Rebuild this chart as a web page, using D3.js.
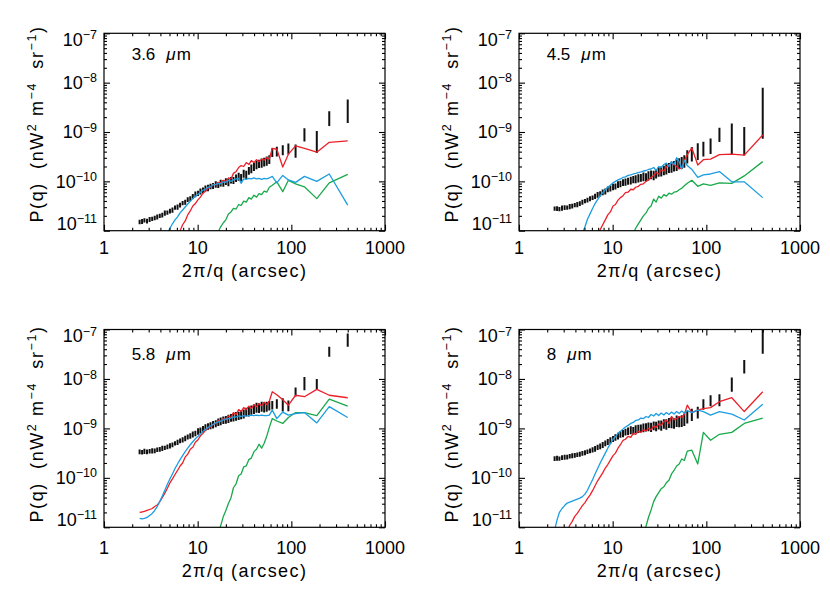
<!DOCTYPE html>
<html>
<head>
<meta charset="utf-8">
<script src="https://cdn.jsdelivr.net/npm/d3@7"></script>
<style>
  body { margin: 0; background: #fff; }
  svg { font-family: "Liberation Sans", Arial, Helvetica, sans-serif; }
</style>
</head>
<body>
<div id="chart"></div>
<script>
const width = 830, height = 593;

// all P(q) values below are in units of 1e-11 nW^2 m^-4 sr^-1
const UNIT = 1e-11;

// angular scale 2pi/q (arcsec), shared by every series
const scales = [
  2.40, 2.55, 2.70, 2.88, 3.07, 3.27, 3.48, 3.70, 3.94, 4.19,
  4.46, 4.75, 5.06, 5.38, 5.73, 6.10, 6.49, 6.91, 7.36, 7.83,
  8.34, 8.87, 9.45, 10.1, 10.7, 11.4, 12.1, 12.9, 13.7, 14.6,
  15.6, 16.6, 17.6, 18.8, 20.0, 21.3, 22.7, 24.1, 25.7, 27.4,
  29.1, 31.0, 33.0, 35.2, 37.4, 39.9, 42.5, 45.2, 48.2, 51.3,
  54.6, 58.2, 62.6, 70.0, 81.0, 93.0, 111, 138, 187, 254,
  400
];

// ---- 3.6 um ----
const obs36 = [
  1.51, 1.55, 1.62, 1.58, 1.70, 1.74, 1.82, 1.91, 2.00, 2.09,
  2.29, 2.34, 2.51, 2.63, 2.95, 3.02, 3.31, 3.63, 3.80, 4.27,
  4.47, 5.01, 5.50, 5.75, 6.31, 6.61, 7.24, 7.41, 7.94, 8.13,
  8.71, 8.51, 9.33, 9.12, 10.0, 9.55, 10.7, 10.5, 11.7, 12.6,
  12.0, 14.5, 13.8, 16.6, 18.2, 20.0, 21.9, 22.9, 24.0, 25.1,
  26.3, 28.2, 39, 41, 44, 47, 43, 92, 71, 197,
  304
];
// relative 1-sigma errors
const err36 = [
  .10, .12, .10, .11, .12, .10, .11, .12, .10, .11,
  .12, .10, .11, .12, .10, .12, .11, .10, .12, .11,
  .12, .11, .13, .12, .14, .13, .14, .15, .13, .14,
  .15, .14, .16, .15, .16, .17, .15, .16, .17, .18,
  .17, .18, .19, .18, .20, .19, .20, .19, .21, .20,
  .21, .20, .20, .22, .23, .25, .30, .30, .47, .33,
  .50
];
const red36 = [
  null, null, null, null, null, null, null, null, null, null,
  null, null, null, null, 0.63, 0.79, 1.00, 1.32, 1.58, 2.09,
  2.51, 3.16, 3.55, 4.27, 4.79, 5.75, 6.31, 7.24, 7.59, 8.71,
  8.51, 9.55, 9.33, 10.5, 10.0, 11.7, 11.2, 14.5, 15.8, 19.1,
  20.9, 20.0, 24.0, 21.9, 26.3, 24.0, 27.5, 25.1, 28.2, 26.9,
  30.2, 28.2, 46.8, 44.7, 19.5, 35.5, 52.5, 46.8, 38.9, 61.7,
  66.1
];
const blue36 = [
  null, null, null, null, null, null, null, null, null, null,
  null, 0.89, 1.12, 1.38, 1.66, 1.91, 2.29, 2.63, 3.02, 3.47,
  3.98, 4.47, 5.01, 5.50, 6.03, 6.61, 6.92, 7.59, 7.76, 8.51,
  8.71, 9.12, 8.91, 9.77, 9.55, 10.5, 10.0, 10.7, 11.2, 11.5,
  9.12, 11.2, 11.0, 11.5, 11.2, 11.7, 11.2, 11.5, 11.0, 11.5,
  11.2, 11.7, 12.6, 9.33, 13.2, 10.7, 9.55, 12.6, 10.0, 14.1,
  3.31
];
const green36 = [
  null, null, null, null, null, null, null, null, null, null,
  null, null, null, null, null, null, null, null, null, null,
  null, null, null, null, null, null, null, null, null, null,
  0.79, 0.95, 1.20, 1.45, 1.66, 2.19, 2.40, 2.82, 2.75, 3.39,
  3.24, 3.98, 3.80, 4.68, 4.37, 5.25, 4.79, 5.62, 5.37, 6.31,
  6.03, 7.59, 8.32, 9.77, 6.17, 10.5, 8.91, 7.76, 4.47, 9.33,
  13.8
];

// ---- 4.5 um ----
const obs45 = [
  2.82, 2.82, 2.75, 2.88, 2.95, 2.95, 3.09, 3.16, 3.31, 3.39,
  3.55, 3.80, 3.98, 4.17, 4.47, 4.68, 5.01, 5.37, 5.62, 6.03,
  6.31, 6.92, 7.24, 7.76, 7.94, 8.71, 8.91, 9.55, 9.77, 10.2,
  10.5, 11.0, 11.2, 11.7, 12.0, 12.6, 12.3, 13.2, 13.8, 13.5,
  14.5, 15.8, 16.2, 17.0, 18.2, 19.1, 20.0, 20.9, 21.9, 23.4,
  24.5, 26.3, 33, 37.5, 43, 47.5, 55, 92, 92, 80,
  430
];
const err45 = [
  .10, .11, .10, .12, .11, .10, .12, .11, .10, .12,
  .11, .12, .10, .11, .12, .11, .12, .13, .12, .13,
  .14, .13, .14, .15, .14, .16, .15, .16, .17, .16,
  .18, .17, .18, .19, .18, .20, .19, .21, .20, .22,
  .21, .22, .23, .22, .24, .23, .25, .24, .26, .25,
  .27, .28, .30, .33, .37, .33, .35, .32, .61, .58,
  .83
];
const red45 = [
  null, null, null, null, null, null, null, null, null, null,
  null, null, null, null, null, null, null, 0.79, 1.05, 1.32,
  1.66, 2.09, 2.40, 3.16, 3.39, 4.17, 4.68, 5.13, 5.89, 6.03,
  6.92, 6.76, 7.59, 7.94, 8.71, 8.91, 10.0, 10.7, 12.0, 13.2,
  15.1, 14.1, 17.0, 16.2, 19.5, 21.4, 23.4, 21.9, 20.0, 18.2,
  18.6, 26.3, 34.7, 47.9, 21.4, 27.5, 28.2, 34.7, 35.5, 33.9,
  87.1
];
const blue45 = [
  null, null, null, null, null, null, null, null, null, null,
  null, 0.89, 1.20, 1.70, 2.19, 2.82, 3.55, 4.27, 5.13, 5.89,
  6.76, 7.59, 8.32, 9.33, 10.0, 10.7, 11.2, 12.0, 12.3, 13.2,
  13.5, 14.1, 14.5, 15.1, 15.5, 16.2, 16.6, 17.4, 17.8, 19.1,
  16.6, 20.0, 19.1, 21.9, 23.4, 20.0, 25.1, 21.9, 30.2, 25.1,
  17.8, 26.3, 20.9, 17.4, 12.0, 13.5, 14.1, 15.8, 9.77, 9.77,
  4.68
];
const green45 = [
  null, null, null, null, null, null, null, null, null, null,
  null, null, null, null, null, null, null, null, null, null,
  null, null, null, null, null, null, null, null, null, null,
  null, 0.89, 1.12, 1.38, 1.66, 2.00, 2.29, 2.82, 3.16, 4.37,
  3.80, 5.01, 4.57, 5.37, 5.01, 5.75, 5.50, 6.03, 6.17, 6.76,
  7.24, 8.13, 9.12, 10.5, 7.94, 8.91, 8.32, 9.33, 9.12, 12.9,
  25.1
];

// ---- 5.8 um ----
const obs58 = [
  33.9, 33.1, 34.7, 33.9, 34.7, 35.5, 35.5, 37.2, 38.0, 39.8,
  40.7, 42.7, 44.7, 46.8, 50.1, 52.5, 56.2, 58.9, 63.1, 67.6,
  70.8, 75.9, 79.4, 87.1, 91.2, 97.7, 105, 110, 115, 120,
  126, 135, 141, 148, 151, 158, 166, 170, 178, 182,
  191, 200, 219, 224, 240, 251, 269, 263, 282, 275,
  282, 295, 300, 320, 313, 295, 557, 840, 810, 3640,
  6400
];
const err58 = [
  .11, .10, .12, .11, .10, .12, .11, .10, .11, .12,
  .10, .11, .12, .11, .10, .12, .11, .12, .13, .12,
  .13, .14, .13, .15, .14, .15, .16, .15, .16, .17,
  .16, .17, .18, .17, .18, .19, .18, .19, .20, .19,
  .20, .21, .20, .22, .21, .22, .23, .22, .23, .24,
  .23, .22, .20, .22, .30, .25, .21, .30, .23, .23,
  .30
];
const red58 = [
  2.00, 2.04, 2.09, 2.19, 2.29, 2.40, 2.63, 2.82, 3.31, 3.98,
  4.90, 6.17, 7.94, 9.55, 11.7, 14.1, 17.4, 20.0, 26.3, 30.2,
  38.0, 41.7, 52.5, 58.9, 70.8, 79.4, 91.2, 102, 107, 120,
  126, 145, 138, 158, 151, 178, 166, 209, 191, 240,
  219, 263, 240, 282, 251, 302, 275, 316, 288, 339,
  302, 355, 550, 479, 380, 295, 468, 437, 617, 468,
  417
];
const blue58 = [
  1.51, 1.48, 1.51, 1.58, 1.74, 1.91, 2.19, 2.63, 3.31, 4.27,
  5.62, 7.41, 9.55, 12.0, 15.5, 19.1, 23.4, 28.2, 33.9, 39.8,
  46.8, 53.7, 61.7, 69.2, 77.6, 87.1, 95.5, 105, 112, 120,
  129, 135, 141, 148, 155, 158, 162, 170, 170, 178,
  174, 182, 178, 182, 186, 182, 186, 182, 186, 182,
  182, 186, 234, 158, 214, 186, 200, 209, 129, 275,
  166
];
const green58 = [
  null, null, null, null, null, null, null, null, null, null,
  null, null, null, null, null, null, null, null, null, null,
  null, null, null, null, null, null, null, null, null, null,
  null, 0.79, 1.07, 1.66, 2.19, 3.02, 3.98, 6.31, 7.59, 11.0,
  12.0, 16.6, 17.4, 23.4, 25.1, 33.9, 38.0, 47.9, 39.8, 50.1,
  69.2, 105, 158, 141, 126, 166, 209, 209, 182, 389,
  282
];

// ---- 8 um ----
const obs80 = [
  24.5, 25.1, 24.5, 25.7, 26.3, 26.3, 27.5, 28.2, 28.8, 29.5,
  30.2, 31.6, 32.4, 33.9, 35.5, 37.2, 38.9, 41.7, 43.7, 46.8,
  50.1, 53.7, 57.5, 61.7, 66.1, 70.8, 75.9, 79.4, 85.1, 89.1,
  93.3, 91.2, 97.7, 100, 102, 105, 107, 110, 107, 115,
  112, 120, 117, 126, 123, 132, 135, 129, 145, 141,
  146, 156, 175, 195, 217, 315, 375, 386, 810, 1850,
  6500
];
const err80 = [
  .11, .12, .10, .11, .12, .11, .10, .12, .11, .10,
  .12, .11, .12, .10, .11, .12, .13, .12, .13, .14,
  .13, .14, .15, .14, .15, .16, .15, .17, .16, .17,
  .18, .17, .18, .19, .18, .20, .19, .20, .21, .20,
  .22, .21, .23, .22, .24, .23, .25, .24, .26, .25,
  .27, .28, .28, .28, .27, .24, .25, .27, .32, .30,
  .50
];
const red80 = [
  null, null, null, null, 0.56, 0.83, 1.10, 1.32, 1.66, 1.91,
  2.29, 2.75, 3.16, 3.80, 4.47, 5.50, 6.92, 8.71, 10.5, 12.6,
  15.8, 18.6, 22.9, 28.2, 31.6, 39.8, 46.8, 57.5, 60.3, 69.2,
  66.1, 79.4, 75.9, 87.1, 83.2, 93.3, 89.1, 100, 93.3, 112,
  105, 123, 115, 138, 145, 126, 174, 151, 158, 174,
  166, 191, 295, 209, 234, 251, 263, 347, 417, 219,
  550
];
const blue80 = [
  0.89, 1.41, 2.00, 2.40, 2.75, 3.09, 3.24, 3.39, 3.55, 3.72,
  3.89, 4.17, 4.68, 5.62, 7.24, 9.12, 12.0, 15.5, 20.0, 25.1,
  31.6, 39.8, 49.0, 60.3, 67.6, 79.4, 87.1, 97.7, 107, 115,
  126, 132, 145, 148, 162, 158, 174, 166, 191, 178,
  200, 182, 204, 186, 209, 191, 214, 195, 219, 200,
  224, 204, 229, 209, 234, 219, 186, 219, 195, 148,
  309
];
const green80 = [
  null, null, null, null, null, null, null, null, null, null,
  null, null, null, null, null, null, null, null, null, null,
  null, null, null, null, null, null, null, null, null, null,
  null, null, null, null, null, 0.79, 1.05, 1.58, 2.24, 3.31,
  4.17, 5.01, 6.03, 6.61, 7.94, 8.91, 12.0, 14.1, 17.4, 19.1,
  24.0, 22.4, 34.7, 36.3, 19.1, 83.2, 57.5, 75.9, 83.2, 126,
  162
];

const bands = ["3.6", "4.5", "5.8", "8"];
const xTickLabels = ["1", "10", "100", "1000"];
const yExponents = [-11, -10, -9, -8, -7];

const colors = { red: '#ec2029', blue: '#1c9de0', green: '#17a94a', obs: '#111' };

const plotW = 281;
// row 0 = top, row 1 = bottom; text of the lower row sits 300px below the upper row
const rows = [
  { base: 0,   top: 33.3,  bottom: 230.7 },
  { base: 300, top: 329.5, bottom: 527.3 }
];
const cols = [104, 519];

const panels = [
  { band: bands[0], obs: obs36, err: err36, red: red36, blue: blue36, green: green36, row: 0, col: 0 },
  { band: bands[1], obs: obs45, err: err45, red: red45, blue: blue45, green: green45, row: 0, col: 1 },
  { band: bands[2], obs: obs58, err: err58, red: red58, blue: blue58, green: green58, row: 1, col: 0 },
  { band: bands[3], obs: obs80, err: err80, red: red80, blue: blue80, green: green80, row: 1, col: 1 }
];

const svg = d3.select('#chart')
  .append('svg')
    .attr('width', width)
    .attr('height', height);

svg.append('rect').attr('width', width).attr('height', height).attr('fill', '#fff');

const isMajor = v => { const l = Math.log10(v); return Math.abs(Math.round(l) - l) < 1e-6; };

panels.forEach((p, pi) => {
  const row = rows[p.row];
  const left = cols[p.col], right = left + plotW;
  const x = d3.scaleLog().domain([1, 1000]).range([left, right]);
  const y = d3.scaleLog().domain([1e-11, 1e-7]).range([row.bottom, row.top]);

  const g = svg.append('g').attr('class', 'panel');

  const clipId = 'clip' + pi;
  svg.append('clipPath').attr('id', clipId)
    .append('rect')
      .attr('x', left).attr('y', row.top)
      .attr('width', plotW).attr('height', row.bottom - row.top);

  const plot = g.append('g').attr('clip-path', `url(#${clipId})`);

  // observed points with error bars
  const pts = scales.map((s, i) => ({ s: s, v: p.obs[i], e: p.err[i] }));
  plot.selectAll('line.bar')
    .data(pts)
    .enter()
    .append('line')
      .attr('class', 'bar')
      .attr('x1', d => x(d.s))
      .attr('x2', d => x(d.s))
      .attr('y1', d => y(d.v * (1 + d.e) * UNIT))
      .attr('y2', d => y(Math.max(d.v * (1 - d.e), 0.01) * UNIT))
      .attr('stroke', colors.obs)
      .attr('stroke-width', 2);

  const line = d3.line()
    .defined(d => d.v != null)
    .x(d => x(d.s))
    .y(d => y(d.v * UNIT));

  ['green', 'red', 'blue'].forEach(c => {
    plot.append('path')
      .datum(scales.map((s, i) => ({ s: s, v: p[c][i] })))
      .attr('d', line)
      .attr('fill', 'none')
      .attr('stroke', colors[c])
      .attr('stroke-width', 1.3)
      .attr('stroke-linejoin', 'round');
  });

  // ticks, all pointing inwards
  const xt = x.ticks(), yt = y.ticks();
  const xMaj = xt.filter(isMajor), xMin = xt.filter(v => !isMajor(v));
  const yMaj = yt.filter(isMajor), yMin = yt.filter(v => !isMajor(v));

  const addAxis = (axis, vals, size, tx, ty) => {
    g.append('g')
      .attr('transform', `translate(${tx},${ty})`)
      .call(axis.tickValues(vals).tickSizeInner(-size).tickSizeOuter(0).tickFormat(''))
      .call(a => a.select('.domain').remove())
      .selectAll('line').attr('stroke', '#000').attr('stroke-width', 1.1);
  };
  addAxis(d3.axisBottom(x), xMaj, 6, 0, row.bottom);
  addAxis(d3.axisBottom(x), xMin, 3, 0, row.bottom);
  addAxis(d3.axisTop(x), xMaj, 6, 0, row.top);
  addAxis(d3.axisTop(x), xMin, 3, 0, row.top);
  addAxis(d3.axisLeft(y), yMaj, 6, left, 0);
  addAxis(d3.axisLeft(y), yMin, 3, left, 0);
  addAxis(d3.axisRight(y), yMaj, 6, right, 0);
  addAxis(d3.axisRight(y), yMin, 3, right, 0);

  // frame
  g.append('rect')
    .attr('x', left).attr('y', row.top)
    .attr('width', plotW).attr('height', row.bottom - row.top)
    .attr('fill', 'none')
    .attr('stroke', '#000')
    .attr('stroke-width', 1.2);

  // x tick labels
  g.selectAll('text.xlab')
    .data(xMaj)
    .enter()
    .append('text')
      .attr('class', 'xlab')
      .attr('x', d => x(d))
      .attr('y', row.base + 254)
      .attr('text-anchor', 'middle')
      .attr('font-size', 18)
      .text((d, i) => xTickLabels[i]);

  // y tick labels 10^n, first and last pulled inside the frame
  const ylab = g.selectAll('text.ylab')
    .data(yMaj)
    .enter()
    .append('text')
      .attr('class', 'ylab')
      .attr('x', left - 7)
      .attr('y', (d, i) => y(d) + 6.4 + (i === 0 ? -7.5 : i === yMaj.length - 1 ? 6.5 : 0))
      .attr('text-anchor', 'end')
      .attr('font-size', 18);
  ylab.append('tspan').text('10');
  ylab.append('tspan')
    .attr('dy', -6.8)
    .attr('font-size', 12.5)
    .text((d, i) => '\u2212' + Math.abs(yExponents[i]));

  // axis titles
  g.append('text')
    .attr('x', left + plotW / 2)
    .attr('y', row.base + 276.5)
    .attr('text-anchor', 'middle')
    .attr('font-size', 18)
    .attr('letter-spacing', 1.4)
    .text('2\u03c0/q (arcsec)');

  const yt2 = g.append('text')
    .attr('transform', `translate(${left - 61},${row.base + 124}) rotate(-90)`)
    .attr('text-anchor', 'middle')
    .attr('font-size', 18)
    .attr('letter-spacing', 1.6);
  yt2.append('tspan').text('P(q)  (nW');
  yt2.append('tspan').attr('dy', -7).attr('font-size', 12.5).text('2');
  yt2.append('tspan').attr('dy', 7).text(' m');
  yt2.append('tspan').attr('dy', -7).attr('font-size', 12.5).text('\u22124');
  yt2.append('tspan').attr('dy', 7).text('  sr');
  yt2.append('tspan').attr('dy', -7).attr('font-size', 12.5).text('\u22121');
  yt2.append('tspan').attr('dy', 7).text(')');
  yt2.style('white-space', 'pre');

  // band label
  const bl = g.append('text')
    .attr('x', left + 27.7)
    .attr('y', row.base + 60)
    .attr('font-size', 17)
    .style('white-space', 'pre');
  bl.append('tspan').text(p.band);
  bl.append('tspan').attr('dx', 11).attr('font-style', 'italic').text('\u03bc');
  bl.append('tspan').attr('dx', 1).text('m');
});
</script>
</body>
</html>
